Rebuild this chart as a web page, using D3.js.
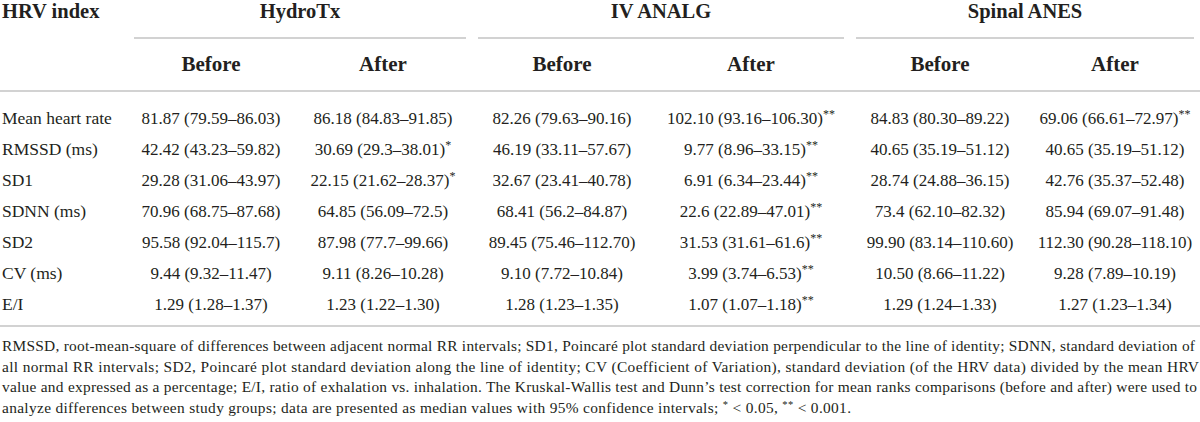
<!DOCTYPE html>
<html>
<head>
<meta charset="utf-8">
<script src="https://cdn.jsdelivr.net/npm/d3@7/dist/d3.min.js"></script>
<style>
  html, body { margin: 0; padding: 0; background: #fff; }
  svg { display: block; }
  text { font-family: "Liberation Serif", "Times New Roman", serif; fill: #231f20; }
</style>
</head>
<body>
<svg id="chart" width="1200" height="422"></svg>
<script>
// ---------- data ----------
const headerLabel = "HRV index";
const groups = ["HydroTx", "IV ANALG", "Spinal ANES"];
const phases = ["Before", "After"];
const indices = ["Mean heart rate", "RMSSD (ms)", "SD1", "SDNN (ms)", "SD2", "CV (ms)", "E/I"];

// median (lower–upper 95% CI), significance marks
const hydroTxBefore = [
  ["81.87", "79.59", "86.03"], ["42.42", "43.23", "59.82"], ["29.28", "31.06", "43.97"],
  ["70.96", "68.75", "87.68"], ["95.58", "92.04", "115.7"], ["9.44", "9.32", "11.47"], ["1.29", "1.28", "1.37"]
];
const hydroTxBeforeSig = ["", "", "", "", "", "", ""];
const hydroTxAfter = [
  ["86.18", "84.83", "91.85"], ["30.69", "29.3", "38.01"], ["22.15", "21.62", "28.37"],
  ["64.85", "56.09", "72.5"], ["87.98", "77.7", "99.66"], ["9.11", "8.26", "10.28"], ["1.23", "1.22", "1.30"]
];
const hydroTxAfterSig = ["", "*", "*", "", "", "", ""];
const ivAnalgBefore = [
  ["82.26", "79.63", "90.16"], ["46.19", "33.11", "57.67"], ["32.67", "23.41", "40.78"],
  ["68.41", "56.2", "84.87"], ["89.45", "75.46", "112.70"], ["9.10", "7.72", "10.84"], ["1.28", "1.23", "1.35"]
];
const ivAnalgBeforeSig = ["", "", "", "", "", "", ""];
const ivAnalgAfter = [
  ["102.10", "93.16", "106.30"], ["9.77", "8.96", "33.15"], ["6.91", "6.34", "23.44"],
  ["22.6", "22.89", "47.01"], ["31.53", "31.61", "61.6"], ["3.99", "3.74", "6.53"], ["1.07", "1.07", "1.18"]
];
const ivAnalgAfterSig = ["**", "**", "**", "**", "**", "**", "**"];
const spinalBefore = [
  ["84.83", "80.30", "89.22"], ["40.65", "35.19", "51.12"], ["28.74", "24.88", "36.15"],
  ["73.4", "62.10", "82.32"], ["99.90", "83.14", "110.60"], ["10.50", "8.66", "11.22"], ["1.29", "1.24", "1.33"]
];
const spinalBeforeSig = ["", "", "", "", "", "", ""];
const spinalAfter = [
  ["69.06", "66.61", "72.97"], ["40.65", "35.19", "51.12"], ["42.76", "35.37", "52.48"],
  ["85.94", "69.07", "91.48"], ["112.30", "90.28", "118.10"], ["9.28", "7.89", "10.19"], ["1.27", "1.23", "1.34"]
];
const spinalAfterSig = ["**", "", "", "", "", "", ""];

const footnoteLines = [
  "RMSSD, root-mean-square of differences between adjacent normal RR intervals; SD1, Poincaré plot standard deviation perpendicular to the line of identity; SDNN, standard deviation of",
  "all normal RR intervals; SD2, Poincaré plot standard deviation along the line of identity; CV (Coefficient of Variation), standard deviation (of the HRV data) divided by the mean HRV",
  "value and expressed as a percentage; E/I, ratio of exhalation vs. inhalation. The Kruskal-Wallis test and Dunn\u2019s test correction for mean ranks comparisons (before and after) were used to",
  "analyze differences between study groups; data are presented as median values with 95% confidence intervals; "
];
const footnoteTail = [["*", true], [" < 0.05, ", false], ["**", true], [" < 0.001.", false]];

// ---------- layout ----------
const columns = [
  { group: 0, phase: 0, vals: hydroTxBefore, sig: hydroTxBeforeSig },
  { group: 0, phase: 1, vals: hydroTxAfter, sig: hydroTxAfterSig },
  { group: 1, phase: 0, vals: ivAnalgBefore, sig: ivAnalgBeforeSig },
  { group: 1, phase: 1, vals: ivAnalgAfter, sig: ivAnalgAfterSig },
  { group: 2, phase: 0, vals: spinalBefore, sig: spinalBeforeSig },
  { group: 2, phase: 1, vals: spinalAfter, sig: spinalAfterSig }
];
const colEdges = [128, 294, 472, 652, 850, 1030, 1200];
const colCenter = i => (colEdges[i] + colEdges[i + 1]) / 2;

const svg = d3.select("#chart");
const ruleColor = "#d2d2d2";

const yRow = d3.scaleBand().domain(indices).range([101, 101 + 31 * indices.length]).padding(0);

// header
svg.append("text").attr("x", 2).attr("y", 18)
  .attr("font-size", 20.5).attr("font-weight", "bold").text(headerLabel);

groups.forEach((g, gi) => {
  const x0 = colEdges[gi * 2] + 6, x1 = colEdges[gi * 2 + 2] - 6;
  svg.append("text").attr("x", (x0 + x1) / 2).attr("y", 18)
    .attr("text-anchor", "middle").attr("font-size", 20.5).attr("font-weight", "bold").text(g);
  svg.append("line").attr("x1", x0).attr("x2", x1).attr("y1", 38).attr("y2", 38)
    .attr("stroke", ruleColor).attr("stroke-width", 1.8);
});

columns.forEach((c, ci) => {
  svg.append("text").attr("x", colCenter(ci)).attr("y", 71)
    .attr("text-anchor", "middle").attr("font-size", 21).attr("font-weight", "bold")
    .text(phases[c.phase]);
});

// rules
svg.append("line").attr("x1", 0).attr("x2", 1200).attr("y1", 91).attr("y2", 91)
  .attr("stroke", ruleColor).attr("stroke-width", 1.8);
svg.append("line").attr("x1", 0).attr("x2", 1200).attr("y1", 326).attr("y2", 326)
  .attr("stroke", ruleColor).attr("stroke-width", 1.8);

// row labels
svg.selectAll("text.rowlabel").data(indices).join("text")
  .attr("class", "rowlabel")
  .attr("x", 2).attr("y", d => yRow(d) + 23)
  .attr("font-size", 17.5).text(d => d);

// cells
columns.forEach((c, ci) => {
  const cells = svg.selectAll("text.cell" + ci).data(indices).join("text")
    .attr("class", "cell" + ci)
    .attr("x", colCenter(ci)).attr("y", d => yRow(d) + 23)
    .attr("text-anchor", "middle").attr("font-size", 17);
  cells.append("tspan").text((d, i) => `${c.vals[i][0]} (${c.vals[i][1]}\u2013${c.vals[i][2]})`);
  cells.filter((d, i) => c.sig[i] !== "")
    .append("tspan").attr("font-size", 12).attr("dy", -6)
    .text(d => c.sig[indices.indexOf(d)]);
});

// footnote
const fnY = [351, 371.5, 392, 412.5];
const fnLen = [1193, 1197, 1195, 849];
footnoteLines.forEach((line, li) => {
  const t = svg.append("text").attr("x", 2).attr("y", fnY[li])
    .attr("font-size", 15.4)
    .attr("textLength", fnLen[li]).attr("lengthAdjust", "spacing");
  t.append("tspan").text(line);
  if (li === footnoteLines.length - 1) {
    let shifted = false;
    footnoteTail.forEach(([s, sup]) => {
      const ts = t.append("tspan").text(s);
      if (sup && !shifted) { ts.attr("font-size", 10.5).attr("dy", -5); shifted = true; }
      else if (!sup && shifted) { ts.attr("dy", 5); shifted = false; }
    });
  }
});
</script>
</body>
</html>
